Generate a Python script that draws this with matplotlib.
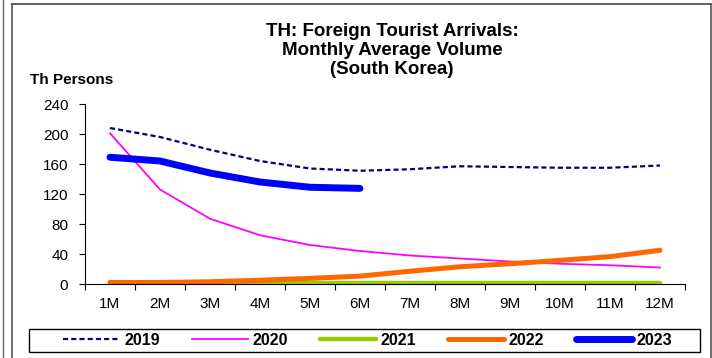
import numpy as np
import matplotlib
matplotlib.use('Agg')
import matplotlib.pyplot as plt
from matplotlib.lines import Line2D
from matplotlib.patches import Rectangle

plt.rcParams['font.family'] = ['Liberation Sans', 'DejaVu Sans']

months = ["1M", "2M", "3M", "4M", "5M", "6M", "7M", "8M", "9M", "10M", "11M", "12M"]
y2019 = [208, 196, 179, 164, 154, 151, 153, 157, 156, 155, 155, 158]
y2020 = [201, 126, 87, 65, 52, 44, 38, 34, 30, 27, 25, 22]
y2021 = [1, 1, 1, 1, 1, 1, 1, 1, 1, 1, 1, 1]
y2022 = [2, 2, 3, 5, 7.5, 10.5, 17, 23, 27, 31.5, 36.5, 45]
y2023 = [169, 164, 148, 136, 129, 127.5]

W, H = 712, 358
fig = plt.figure(figsize=(W / 100, H / 100), dpi=100)
ax = fig.add_axes([85 / W, 1 - 284 / H, 600 / W, 180 / H])

x = np.arange(len(months))
ax.plot(x, y2019, color="#000080", lw=1.6, ls=(0, (2.3, 1.4)), label="2019")
ax.plot(x, y2020, color="#FF00FF", lw=1.3, label="2020")
ax.plot(x, y2021, color="#99CC00", lw=3.2, solid_capstyle="round", label="2021")
ax.plot(x, y2022, color="#FF6600", lw=3.6, solid_capstyle="round", label="2022")
ax.plot(x[:len(y2023)], y2023, color="#0000FF", lw=5, solid_capstyle="round", label="2023")

ax.set_xlim(-0.5, 11.5)
ax.set_ylim(0, 240)
ax.set_yticks(np.arange(0, 241, 40))
ax.set_xticks(np.arange(-0.5, 12, 1))
ax.set_xticklabels([])
ax.set_xticks(x, minor=True)
ax.set_xticklabels(months, minor=True)
ax.tick_params(axis="x", which="minor", length=0, pad=9, labelsize=11)
ax.tick_params(axis="x", which="major", length=4, direction="out")
ax.tick_params(axis="y", length=4, direction="out", labelsize=11, pad=8)
ax.spines["top"].set_visible(False)
ax.spines["right"].set_visible(False)

fig.text(392 / W, 1 - 22.5 / H, "TH: Foreign Tourist Arrivals:\nMonthly Average Volume\n(South Korea)",
         ha="center", va="top", fontsize=13.5, fontweight="bold", linespacing=1.17)
fig.text(30 / W, 1 - 84 / H, "Th Persons", ha="left", va="baseline", fontsize=11, fontweight="bold")

# legend box
fig.add_artist(Rectangle((29 / W, 1 - 352 / H), 671 / W, 23 / H, transform=fig.transFigure,
                         facecolor="white", edgecolor="black", lw=1.0))
leg = fig.legend(loc="center", bbox_to_anchor=(368 / W, 1 - 340.5 / H),
                 ncol=5, prop={"weight": "bold", "size": 11.5},
                 handlelength=3.5, handletextpad=0.3, columnspacing=2.0,
                 borderaxespad=0, borderpad=0, frameon=False)

# outer frame lines
fig.add_artist(Line2D([3 / W, 3 / W], [0, 1], transform=fig.transFigure, color="#666666", lw=1))
fig.add_artist(Line2D([11.5 / W, 11.5 / W], [0, 1 - 4 / H], transform=fig.transFigure, color="#555555", lw=1.2))
fig.add_artist(Line2D([11.5 / W, 711 / W], [1 - 4 / H, 1 - 4 / H], transform=fig.transFigure, color="#444444", lw=1.2))
fig.add_artist(Line2D([710.5 / W, 710.5 / W], [0, 1 - 4 / H], transform=fig.transFigure, color="#555555", lw=1.2))

fig.savefig("out.png", dpi=100)
